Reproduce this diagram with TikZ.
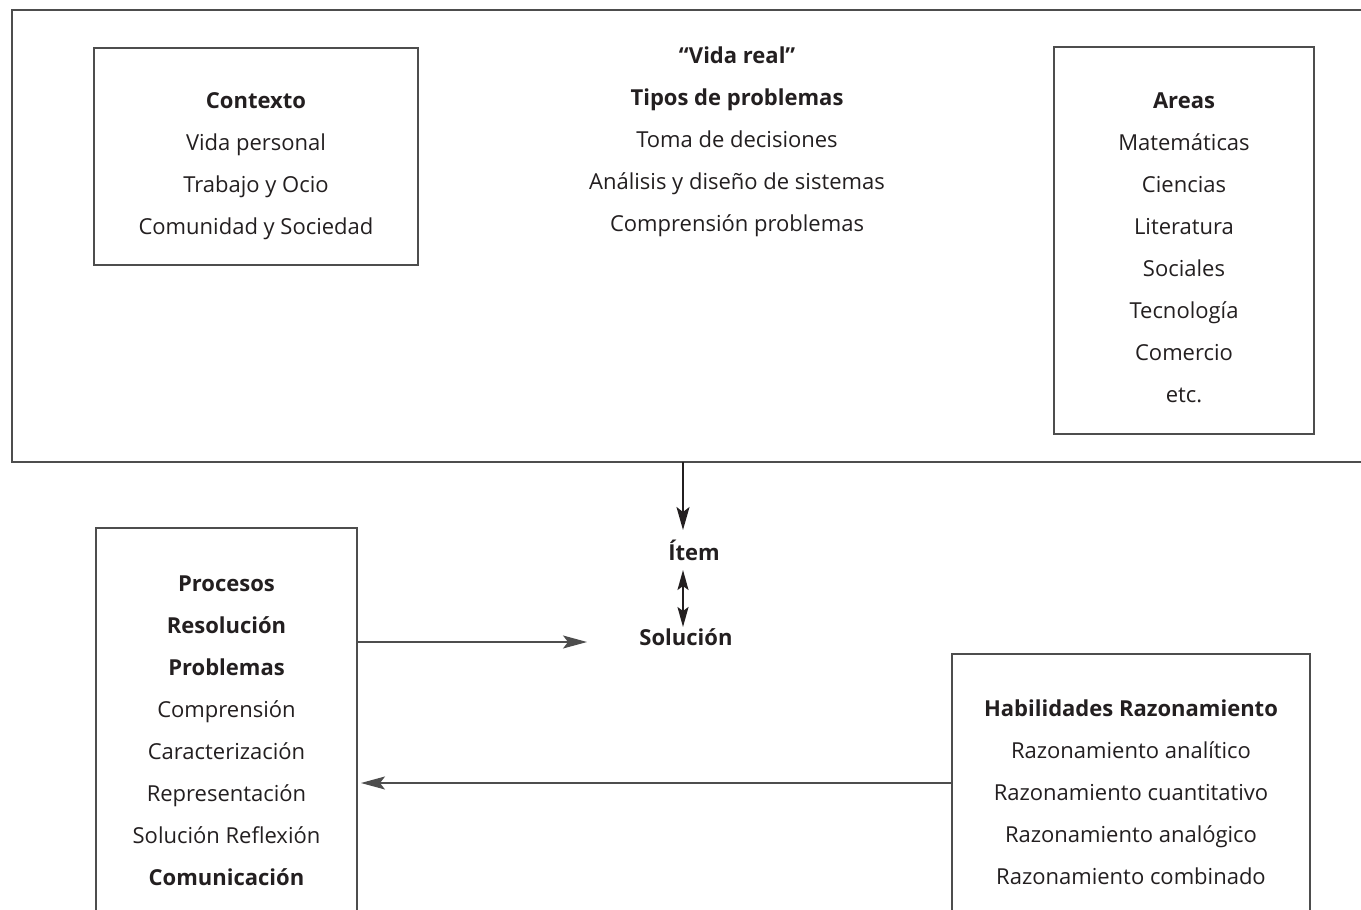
\documentclass[tikz,border=0pt]{standalone}
\usepackage{fontspec}
\setmainfont{Open Sans}
\usetikzlibrary{arrows.meta,calc}
\definecolor{ink}{HTML}{231F20}
\definecolor{rulec}{HTML}{4D4D4D}
\begin{document}
\begin{tikzpicture}[x=1pt,y=-1pt,
  box/.style={draw=rulec,line width=1.3pt,inner sep=0pt,outer sep=0pt,anchor=north west},
  txt/.style={text=ink,align=center,font=\fontsize{22}{42}\selectfont,anchor=base,inner sep=0pt},
  vline/.style={draw=ink,line width=2pt},
  hline/.style={draw=rulec,line width=1.2pt},
  bigtip/.style={-{Stealth[length=23pt,width=13pt,inset=5pt]}},
  dbltip/.style={{Stealth[length=20pt,width=11pt,inset=4pt]}-{Stealth[length=20pt,width=11pt,inset=4pt]}},
  htip/.style={-{Stealth[length=24pt,width=13pt,inset=5pt]}}]
\clip (0,0) rectangle (1361,910);
\fill[white] (0,0) rectangle (1361,910);
% boxes
\node[box,minimum width=1370pt,minimum height=452pt] (outer) at (12,10) {};
\node[box,minimum width=324pt,minimum height=217pt] (ctx) at (94,48) {};
\node[box,minimum width=260pt,minimum height=387pt] (areas) at (1054,47) {};
\node[box,minimum width=261pt,minimum height=400pt] (proc) at (96,528) {};
\node[box,minimum width=358pt,minimum height=300pt] (hab) at (952,654) {};
% texts (anchor = baseline of the last line)
\node[txt] (ctxT) at (256,234) {\textbf{Contexto}\\Vida personal\\Trabajo y Ocio\\Comunidad y Sociedad};
\node[txt] (vida) at (737,231) {\textbf{“Vida real”}\\\textbf{Tipos de problemas}\\Toma de decisiones\\Análisis y diseño de sistemas\\Comprensión problemas};
\node[txt] (areasT) at (1184,402) {\textbf{Areas}\\Matemáticas\\Ciencias\\Literatura\\Sociales\\Tecnología\\Comercio\\etc.};
\node[txt] (procT) at (226.5,885) {\textbf{Procesos}\\\textbf{Resolución}\\\textbf{Problemas}\\Comprensión\\Caracterización\\Representación\\Solución Reflexión\\\textbf{Comunicación}};
\node[txt] (habT) at (1131,884) {\textbf{Habilidades Razonamiento}\\Razonamiento analítico\\Razonamiento cuantitativo\\Razonamiento analógico\\Razonamiento combinado};
\node[txt] (item) at (694,560) {\textbf{Ítem}};
\node[txt] (sol) at (686,645) {\textbf{Solución}};
% connectors
\coordinate (vx) at (683,0);
\coordinate (itemtop) at (683,530);
\coordinate (d1) at (683,570);
\coordinate (d2) at (683,627);
\coordinate (h1) at (587,642);
\coordinate (h2) at (361,783);
\draw[vline,bigtip] (outer.south -| vx) -- (itemtop);
\draw[vline,dbltip] (d1) -- (d2);
\draw[hline,htip] (h1 -| proc.east) -- (h1);
\draw[hline,htip] (h2 -| hab.west) -- (h2);
\end{tikzpicture}
\end{document}
